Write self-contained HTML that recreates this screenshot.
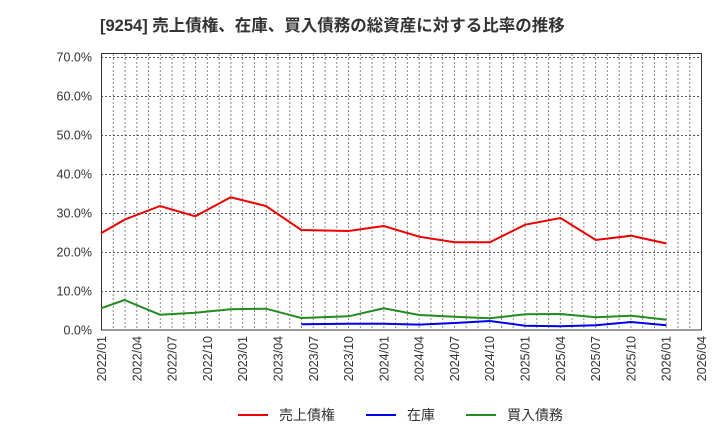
<!DOCTYPE html>
<html><head><meta charset="utf-8"><style>
body{margin:0;background:#fff;}
svg text{font-family:"Liberation Sans","Noto Sans CJK JP",sans-serif;}
</style></head><body>
<svg width="720" height="440" xmlns="http://www.w3.org/2000/svg">
<text x="100" y="31" font-size="16.5" font-weight="bold" fill="#333">[9254]  売上債権、在庫、買入債務の総資産に対する比率の推移</text>
<g stroke="#888" stroke-width="1" stroke-dasharray="2,2" id="vg"></g>
<g id="grid"></g>
<rect x="101.5" y="53.5" width="600" height="276.5" fill="none" stroke="#333" stroke-width="1"/>
<g font-size="12.5" fill="#333" text-anchor="end" id="yl"></g>
<g font-size="12.5" fill="#333" id="xl"></g>
<polyline fill="none" stroke="#ee0000" stroke-width="2" points="101,233.3 124.5,219.7 160,206 195.3,216.3 230.6,197.3 266,206 301.3,230 348.5,231 383.8,226 419.2,236.7 454.5,242.3 489.8,242.3 525.2,224.7 560.5,218 595.8,240 631.2,235.7 666.5,243.5"/>
<polyline fill="none" stroke="#0000ee" stroke-width="2" points="301.3,324.3 348.5,323.7 383.8,323.7 419.2,324.6 454.5,323 489.8,321 525.2,325.7 560.5,326.3 595.8,325.3 631.2,322 666.5,325.3"/>
<polyline fill="none" stroke="#228b22" stroke-width="2" points="101,308.3 124.5,300 160,314.7 195.3,312.7 230.6,309.3 266,308.7 301.3,318 348.5,316.3 383.8,308.3 419.2,315 454.5,316.7 489.8,318.3 525.2,314.3 560.5,314 595.8,317.3 631.2,315.7 666.5,319.7"/>
<g font-size="14" fill="#333">
<line x1="238" y1="415" x2="268" y2="415" stroke="#ee0000" stroke-width="2"/><text x="279" y="420">売上債権</text>
<line x1="366" y1="415" x2="396" y2="415" stroke="#0000ee" stroke-width="2"/><text x="407" y="420">在庫</text>
<line x1="466" y1="415" x2="496" y2="415" stroke="#228b22" stroke-width="2"/><text x="507" y="420">買入債務</text>
</g>
<script>
var ns="http://www.w3.org/2000/svg";
var vg=document.getElementById("vg"),g=document.getElementById("grid"),yl=document.getElementById("yl"),xl=document.getElementById("xl");
for(var m=1;m<52;m++){var x=101.5+m*600/51;var l=document.createElementNS(ns,"line");l.setAttribute("x1",x);l.setAttribute("x2",x);l.setAttribute("y1",54);l.setAttribute("y2",330);vg.appendChild(l);}
for(var k=0;k<=7;k++){var y=330-k*39;if(k>0){var l=document.createElementNS(ns,"line");l.setAttribute("x1",101);l.setAttribute("x2",702);l.setAttribute("y1",y+0.5);l.setAttribute("y2",y+0.5);l.setAttribute("stroke","#555");l.setAttribute("stroke-dasharray","2,2");g.appendChild(l);}
var t=document.createElementNS(ns,"text");t.setAttribute("x",92);t.setAttribute("y",y+4.5);t.textContent=(k*10)+".0%";yl.appendChild(t);}
for(var q=0;q<=17;q++){var x=101.5+q*600/17;var yr=2022+Math.floor(q/4);var mo=["01","04","07","10"][q%4];var t=document.createElementNS(ns,"text");t.setAttribute("transform","translate("+(x+4.5)+",336) rotate(-90)");t.setAttribute("text-anchor","end");t.textContent=yr+"/"+mo;xl.appendChild(t);}
</script>
</svg>
</body></html>
